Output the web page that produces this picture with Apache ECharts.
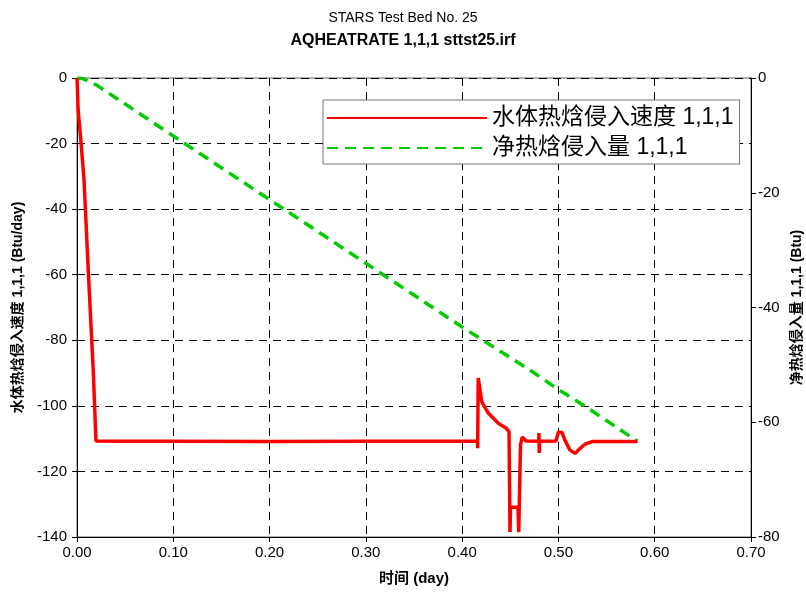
<!DOCTYPE html>
<html>
<head>
<meta charset="utf-8">
<script src="https://cdn.jsdelivr.net/npm/echarts@6/dist/echarts.min.js"></script>
<style>html,body{margin:0;padding:0;background:#fff;}#c{width:806px;height:592px;}</style>
</head>
<body>
<div id="c"></div>
<script>
// ---- data ----
var xTickLabels = ['0.00','0.10','0.20','0.30','0.40','0.50','0.60','0.70'];
var rateName = '水体热焓侵入速度 1,1,1';
var cumName = '净热焓侵入量 1,1,1';
var rateDays = [0, 0.0005, 0.001, 0.002, 0.004, 0.0073, 0.0117, 0.0169, 0.0197, 0.05, 0.1, 0.2, 0.3, 0.4, 0.4159, 0.4161, 0.4167, 0.4203, 0.4271, 0.4375, 0.4459, 0.4487, 0.4497, 0.4503, 0.458, 0.4588, 0.4606, 0.4624, 0.4663, 0.4795, 0.4798, 0.4801, 0.4804, 0.4974, 0.5, 0.5037, 0.5068, 0.512, 0.5172, 0.5224, 0.5276, 0.535, 0.582];
var rateVals = [0, -3.7, -8.9, -12.5, -19.0, -31.0, -58.7, -89.3, -110.7, -110.8, -110.8, -110.9, -110.8, -110.8, -110.7, -112.9, -91.5, -98.7, -102.2, -105.3, -106.8, -107.9, -138.5, -130.9, -130.9, -138.5, -111.9, -109.5, -110.7, -110.8, -108.3, -114.4, -110.8, -110.7, -108.0, -108.1, -110.5, -113.5, -114.5, -113.0, -111.7, -110.9, -110.9];
var cumDays = [0, 0.006, 0.02, 0.1, 0.2, 0.3, 0.4, 0.4722, 0.5, 0.5293, 0.582];
var cumVals = [0, -0.1, -1.2, -10.1, -21.2, -32.3, -43.4, -51.1, -54.3, -57.4, -63.3];

function pairs(xs, ys){ var out=[]; for(var i=0;i<xs.length;i++){ out.push([xs[i], ys[i]]); } return out; }

var FONT = "'Liberation Sans', Arial, 'Noto Sans CJK SC', sans-serif";
var chart = echarts.init(document.getElementById('c'), null, {renderer:'canvas'});
chart.setOption({
  animation: false,
  backgroundColor: '#fff',
  title: [
    {text: 'STARS Test Bed No. 25', left: 'center', top: 6,
     textStyle: {fontFamily: FONT, fontSize: 14, fontWeight: 'normal', color: '#000'}},
    {text: 'AQHEATRATE 1,1,1 sttst25.irf', left: 'center', top: 28,
     textStyle: {fontFamily: FONT, fontSize: 16, fontWeight: 'bold', color: '#000'}}
  ],
  grid: {left: 77, right: 55, top: 78, bottom: 55, outerBoundsMode: 'none', containLabel: false,
         show: true, borderColor: '#666', borderWidth: 1, backgroundColor: 'transparent'},
  legend: {
    orient: 'vertical', left: 323, top: 100,
    padding: [6, 6, 4, 3], itemGap: 6,
    itemWidth: 160, itemHeight: 14, itemTextGap: 5,
    backgroundColor: '#fff', borderColor: '#777', borderWidth: 1,
    itemStyle: {opacity: 0},
    textStyle: {fontFamily: FONT, fontSize: 23, color: '#000', lineHeight: 24},
    data: [rateName, cumName]
  },
  xAxis: {
    type: 'value', min: 0, max: 0.7, interval: 0.1,
    name: '时间 (day)', nameLocation: 'middle', nameGap: 34,
    nameTextStyle: {fontFamily: FONT, fontSize: 15, fontWeight: 'bold', color: '#000'},
    axisLine: {show: true, onZero: false, lineStyle: {color: '#000', width: 1}},
    axisTick: {show: true, inside: false, length: 5, lineStyle: {color: '#000'}},
    axisLabel: {margin: 8, fontFamily: FONT, fontSize: 15, color: '#000',
      formatter: function(v){ var i = Math.round(v*10); return xTickLabels[i] !== undefined ? xTickLabels[i] : v.toFixed(2); }},
    splitLine: {show: true, lineStyle: {color: '#000', type: [8, 6], width: 1}}
  },
  yAxis: [
    {
      type: 'value', min: -140, max: 0, interval: 20, position: 'left',
      name: '水体热焓侵入速度 1,1,1 (Btu/day)', nameLocation: 'middle', nameGap: 52,
      nameTextStyle: {fontFamily: FONT, fontSize: 14, fontWeight: 'bold', color: '#000'},
      axisLine: {show: true, onZero: false, lineStyle: {color: '#000', width: 1}},
      axisTick: {show: true, inside: false, length: 5, lineStyle: {color: '#000'}},
      axisLabel: {margin: 10, fontFamily: FONT, fontSize: 15, color: '#000'},
      splitLine: {show: true, lineStyle: {color: '#000', type: [8, 6], width: 1}}
    },
    {
      type: 'value', min: -80, max: 0, interval: 20, position: 'right',
      name: '净热焓侵入量 1,1,1 (Btu)', nameLocation: 'middle', nameGap: 38,
      nameTextStyle: {fontFamily: FONT, fontSize: 14, fontWeight: 'bold', color: '#000'},
      axisLine: {show: true, onZero: false, lineStyle: {color: '#000', width: 1}},
      axisTick: {show: true, inside: false, length: 5, lineStyle: {color: '#000'}},
      axisLabel: {margin: 7, fontFamily: FONT, fontSize: 15, color: '#000'},
      splitLine: {show: false}
    }
  ],
  series: [
    {
      name: rateName, type: 'line', yAxisIndex: 0, data: pairs(rateDays, rateVals),
      symbol: 'none', showSymbol: false, smooth: false,
      lineStyle: {color: '#ff0000', width: 3.5}, itemStyle: {color: '#ff0000'}, z: 3
    },
    {
      name: cumName, type: 'line', yAxisIndex: 1, data: pairs(cumDays, cumVals),
      symbol: 'none', showSymbol: false, smooth: false,
      lineStyle: {color: '#00cc00', width: 3.5, type: [11, 7]}, itemStyle: {color: '#00cc00'}, z: 2
    }
  ]
});
</script>
</body>
</html>
